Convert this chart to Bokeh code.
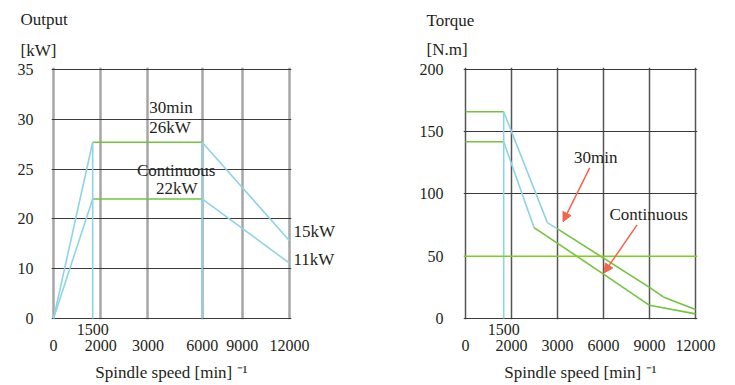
import numpy as np
from bokeh.plotting import figure
from bokeh.layouts import row
from bokeh.models import (Range1d, FixedTicker, Label, Arrow, NormalHead, Span, Title, LinearAxis)
from bokeh.embed import file_html
from bokeh.resources import INLINE

# ---------------- data ----------------
speed_ticks = [0, 1500, 2000, 3000, 6000, 9000, 12000]
speed_tick_labels = ["\n0", "1500", "\n2000", "\n3000", "\n6000", "\n9000", "\n12000"]
base_speed = 1500

out_ticks = [0, 10, 20, 25, 30, 35]
torque_ticks = [0, 50, 100, 150, 200]

# Output chart (kW)
out_speed = [0, 1500, 6000, 12000]
out_30min = [0, 27.7, 27.7, 15.6]
out_cont = [0, 22.0, 22.0, 11.1]
out_seg_kind = ["rise", "flat", "fall"]
out_end_labels = ["15kW", "11kW"]

# Torque chart (N.m)
tq30_speed = [0, 1500, 2780, 3000, 9000, 9900, 12000]
tq30_val = [166, 166, 77, 72, 25, 17.3, 7.2]
tq30_kind = ["flat", "fall", "fall", "lin", "lin", "lin"]
tqc_speed = [0, 1500, 2490, 6000, 9000, 12000]
tqc_val = [142, 142, 73, 35.7, 10.6, 3.7]
tqc_kind = ["flat", "fall", "lin", "lin", "lin"]
tq_ref_line = 50

# ---------------- styling ----------------
CYAN = "#8fd3e6"
GREEN = "#72c43c"
RED = "#f0664a"
TXT = "#231f20"
FONT = "Liberation Serif"
kind_color = {"rise": CYAN, "fall": CYAN, "flat": GREEN, "lin": GREEN}

# the drawing uses an irregular speed axis: screen positions of the ticks
left_speed_pos = [0, 0.83, 1, 2, 3.15, 4, 5]
right_speed_pos = [0, 0.83, 1, 2, 3, 4, 5]
out_pos = [0, 1, 2, 3, 4, 5]


def lx(s):
    return np.interp(s, speed_ticks, left_speed_pos)


def rx(s):
    return np.interp(s, speed_ticks, right_speed_pos)


def ly(v):
    return np.interp(v, out_ticks, out_pos)


def style_axis(ax, size="16px"):
    ax.axis_line_color = None
    ax.major_tick_line_color = None
    ax.minor_tick_line_color = None
    ax.major_label_text_font = FONT
    ax.major_label_text_font_size = size
    ax.major_label_text_color = TXT
    ax.major_label_text_line_height = 0.95
    ax.axis_label_text_font = FONT
    ax.axis_label_text_font_size = "17px"
    ax.axis_label_text_font_style = "normal"
    ax.axis_label_text_color = TXT


def setup(p, xt, yt, ylabels, ystand):
    p.xaxis.ticker = FixedTicker(ticks=list(xt))
    p.xaxis.major_label_overrides = {float(k): v for k, v in zip(xt, speed_tick_labels)}
    p.yaxis.ticker = FixedTicker(ticks=list(yt))
    p.yaxis.major_label_overrides = {float(k): v for k, v in zip(yt, ylabels)}
    style_axis(p.xaxis[0])
    style_axis(p.yaxis[0])
    p.xaxis.major_label_standoff = -5
    p.yaxis.major_label_standoff = ystand
    p.xaxis.axis_label = "Spindle speed [min] \u207b\u00b9"
    p.xaxis.axis_label_standoff = 6
    p.outline_line_color = None
    p.background_fill_color = "white"
    p.border_fill_color = "white"


def title(p, text, offset, standoff, lh):
    p.add_layout(Title(text=text, align="left", offset=offset, standoff=standoff,
                       text_font=FONT, text_font_size="17px", text_font_style="normal",
                       text_color=TXT, text_line_height=lh), "above")


def txt(p, x, y, s, size="17px", align="center"):
    p.add_layout(Label(x=x, y=y, text=s, text_font=FONT, text_font_size=size,
                       text_color=TXT, text_align=align, text_baseline="middle"))


# ---------------- left: Output ----------------
FW1, FH = 240, 253
ux1 = (FW1 - 4) / 5
uy1 = (FH - 3) / 5
p1 = figure(width=378, height=384, output_backend="svg", toolbar_location=None,
            x_range=Range1d(-2 / ux1, 5 + 2 / ux1), y_range=Range1d(-1 / uy1, 5 + 2 / uy1),
            min_border_left=51, min_border_right=378 - 51 - FW1, min_border_top=67,
            min_border_bottom=384 - 67 - FH)
lt = lx(speed_ticks)
setup(p1, lt, out_pos, [str(v) for v in out_ticks], 12)
grid_x1 = [t for s, t in zip(speed_ticks, lt) if s != base_speed]
p1.xgrid.ticker = FixedTicker(ticks=grid_x1)
p1.xgrid.grid_line_color = "#a6a6a6"
p1.xgrid.grid_line_width = 2.5
p1.ygrid.ticker = FixedTicker(ticks=out_pos)
p1.ygrid.grid_line_color = "#3a3a3a"
p1.ygrid.grid_line_width = 1

xs = lx(out_speed)
cols = [kind_color[k] for k in out_seg_kind]
for vals in (out_30min, out_cont):
    ys = ly(vals)
    p1.segment(x0=xs[:-1], y0=ys[:-1], x1=xs[1:], y1=ys[1:], line_color=cols, line_width=1.6)
vx = lx([out_speed[1], out_speed[2]])
vtop = ly([out_30min[1], out_30min[2]])
p1.segment(x0=vx, y0=[0, 0], x1=vx, y1=vtop, line_color=CYAN, line_width=1.6)

# end-of-curve labels on a right axis
end_pos = [ly(out_30min[-1]) + 0.19, ly(out_cont[-1]) + 0.07]
rax = LinearAxis(ticker=FixedTicker(ticks=end_pos),
                 major_label_overrides={float(k): v for k, v in zip(end_pos, out_end_labels)})
style_axis(rax, "17px")
rax.major_label_standoff = -4
p1.add_layout(rax, "right")

title(p1, "Output\n[kW]", -31, 15, 1.65)
txt(p1, 2.49, 4.24, "30min")
txt(p1, 2.47, 3.84, "26kW")
txt(p1, 2.6, 2.98, "Continuous")
txt(p1, 2.61, 2.62, "22kW")

# ---------------- right: Torque ----------------
FW2 = 234
ux2 = (FW2 - 4) / 5
uy2 = (FH - 3) / 200
p2 = figure(width=357, height=384, output_backend="svg", toolbar_location=None,
            x_range=Range1d(-2 / ux2, 5 + 2 / ux2), y_range=Range1d(-1 / uy2, 200 + 2 / uy2),
            min_border_left=85, min_border_right=357 - 85 - FW2, min_border_top=67,
            min_border_bottom=384 - 67 - FH)
rt = rx(speed_ticks)
setup(p2, rt, torque_ticks, [str(v) for v in torque_ticks], 14)
grid_x2 = [t for s, t in zip(speed_ticks, rt) if s != base_speed]
p2.xgrid.ticker = FixedTicker(ticks=grid_x2)
p2.xgrid.grid_line_color = "#555555"
p2.xgrid.grid_line_width = 1.5
p2.ygrid.ticker = FixedTicker(ticks=[t for t in torque_ticks if t != tq_ref_line])
p2.ygrid.grid_line_color = "#3a3a3a"
p2.ygrid.grid_line_width = 1
p2.add_layout(Span(location=tq_ref_line, dimension="width", line_color="#7ccf1e", line_width=1.6))

for sp, vals, kinds in ((tq30_speed, tq30_val, tq30_kind), (tqc_speed, tqc_val, tqc_kind)):
    xs2 = rx(sp)
    ys2 = np.array(vals, dtype=float)
    p2.segment(x0=xs2[:-1], y0=ys2[:-1], x1=xs2[1:], y1=ys2[1:],
               line_color=[kind_color[k] for k in kinds], line_width=1.6)
bx = rx(base_speed)
p2.segment(x0=[bx], y0=[0], x1=[bx], y1=[tq30_val[1]], line_color=CYAN, line_width=1.6)

title(p2, "Torque\n[N.m]", -37, 17, 1.53)
txt(p2, 2.83, 129.6, "30min")
txt(p2, 3.98, 83.2, "Continuous")
p2.add_layout(Arrow(x_start=2.70, y_start=121, x_end=2.12, y_end=77.8, line_color=RED,
                    line_width=1.5, end=NormalHead(size=9, fill_color=RED, line_color=RED)))
p2.add_layout(Arrow(x_start=3.73, y_start=75.2, x_end=3.01, y_end=36.6, line_color=RED,
                    line_width=1.5, end=NormalHead(size=9, fill_color=RED, line_color=RED)))

layout = row(p1, p2, spacing=0)
open("out.html", "w").write(file_html(layout, INLINE))
